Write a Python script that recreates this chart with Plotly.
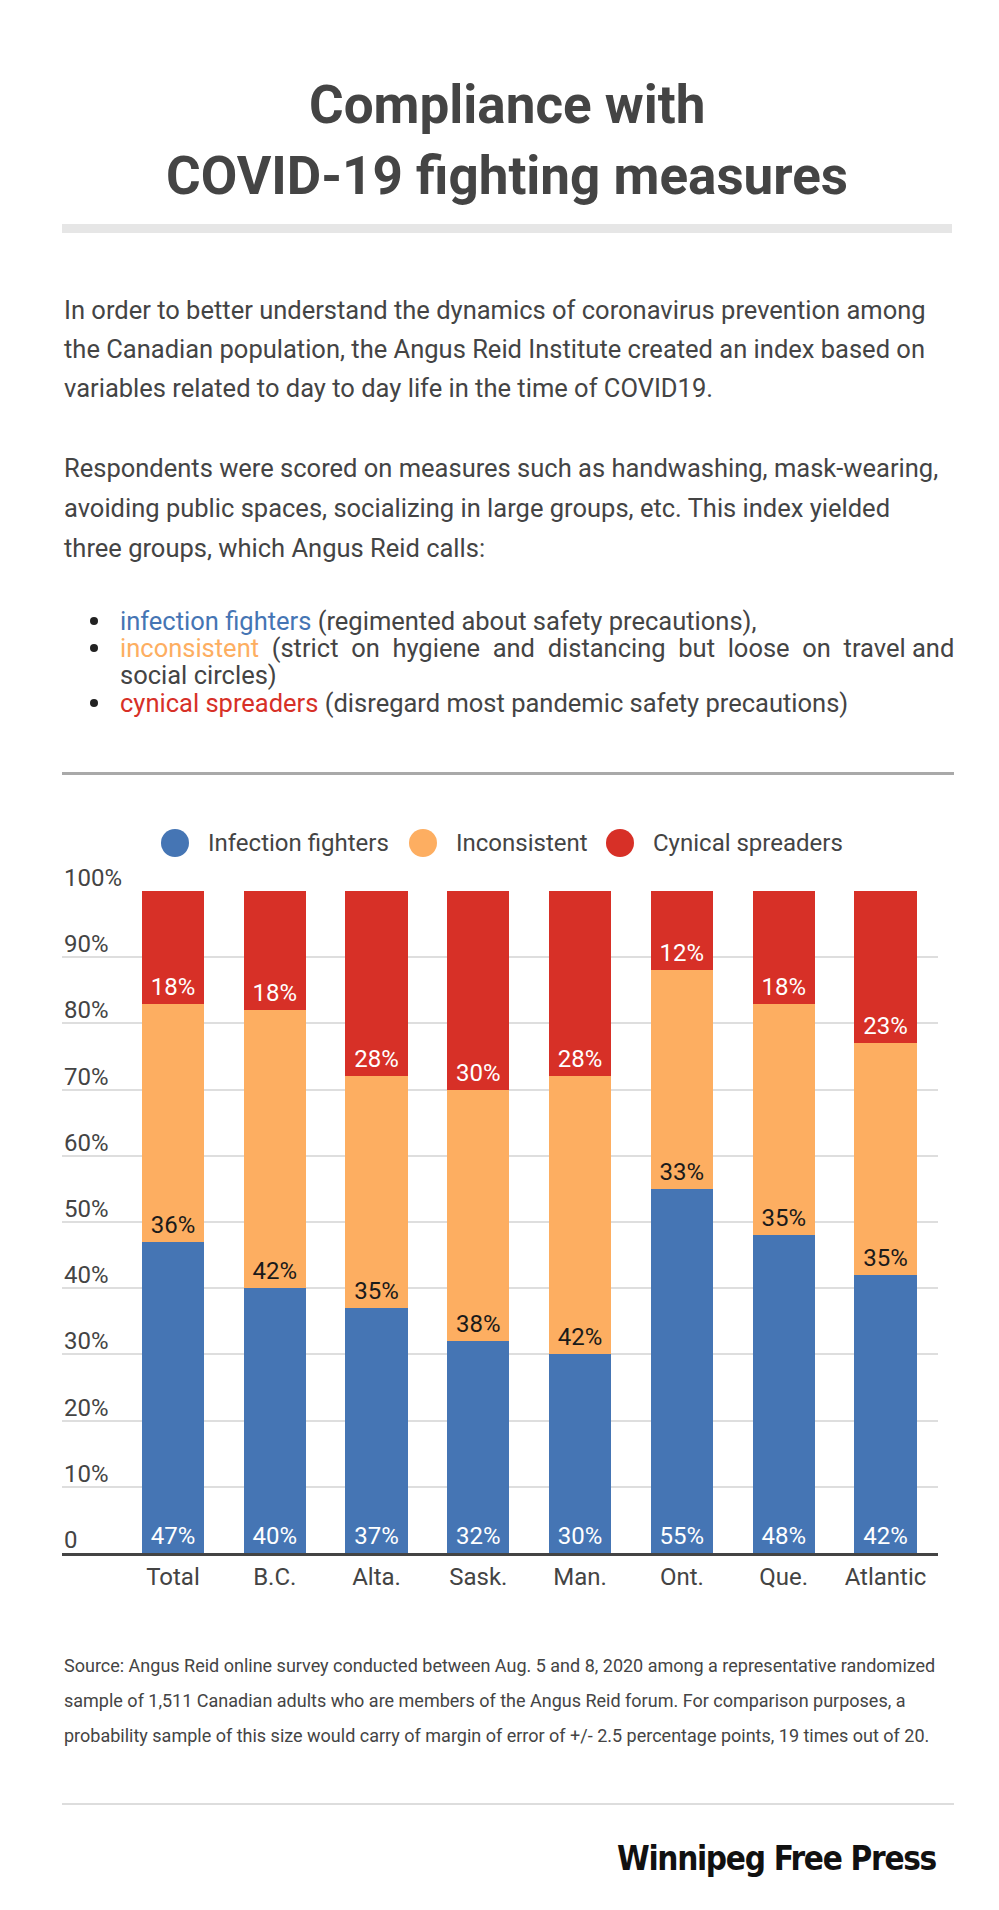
import plotly.graph_objects as go

# ---------------- data ----------------
categories = ["Total", "B.C.", "Alta.", "Sask.", "Man.", "Ont.", "Que.", "Atlantic"]
series_names = ["Infection fighters", "Inconsistent", "Cynical spreaders"]
infection_fighters = [47, 40, 37, 32, 30, 55, 48, 42]
inconsistent = [36, 42, 35, 38, 42, 33, 35, 35]
cynical_spreaders = [18, 18, 28, 30, 28, 12, 18, 23]
y_ticks = [0, 10, 20, 30, 40, 50, 60, 70, 80, 90, 100]
y_tick_labels = ["0", "10%", "20%", "30%", "40%", "50%", "60%", "70%", "80%", "90%", "100%"]

title_lines = ["Compliance with", "COVID-19 fighting measures"]
para1 = [
    "In order to better understand the dynamics of coronavirus prevention among",
    "the Canadian population, the Angus Reid Institute created an index based on",
    "variables related to day to day life in the time of COVID19.",
]
para2 = [
    "Respondents were scored on measures such as handwashing, mask-wearing,",
    "avoiding public spaces, socializing in large groups, etc. This index yielded",
    "three groups, which Angus Reid calls:",
]
source_lines = [
    "Source: Angus Reid online survey conducted between Aug. 5 and 8, 2020 among a representative randomized",
    "sample of 1,511 Canadian adults who are members of the Angus Reid forum. For comparison purposes, a",
    "probability sample of this size would carry of margin of error of +/- 2.5 percentage points, 19 times out of 20.",
]

# ---------------- style ----------------
W, H = 999, 1910
BLUE, ORANGE, RED = "#4575B4", "#FDAE61", "#D73027"
TXT = "#444444"
FONT = "Roboto"
BODY = 25.5
NB = "\u00a0"


def px(x):
    return x / W


def py(y):
    return 1 - y / H


fig = go.Figure()
for name, vals, col, tcol in [
    (series_names[0], infection_fighters, BLUE, "white"),
    (series_names[1], inconsistent, ORANGE, "#1a1a1a"),
    (series_names[2], cynical_spreaders, RED, "white"),
]:
    fig.add_trace(go.Bar(
        x=categories, y=vals, name=name, marker=dict(color=col, line=dict(width=0)),
        width=0.61, text=[f"{v}%" for v in vals], textposition="inside",
        insidetextanchor="start", textangle=0,
        textfont=dict(family=FONT, size=24, color=tcol),
        showlegend=False, hoverinfo="skip",
    ))

fig.update_layout(
    width=W, height=H, barmode="stack",
    margin=dict(l=0, r=0, t=0, b=0),
    paper_bgcolor="white", plot_bgcolor="white",
    font=dict(family=FONT, color=TXT),
    uniformtext=dict(minsize=8, mode=False),
    xaxis=dict(
        domain=[px(54), px(930)], range=[-1.09, 7.516],
        showgrid=False, showline=True, linecolor="#444444", linewidth=3,
        ticks="", tickfont=dict(family=FONT, size=24, color=TXT),
        ticklabelstandoff=0, fixedrange=True,
    ),
    yaxis=dict(
        domain=[py(1545), py(883)], range=[0, 100],
        tickvals=y_ticks, showticklabels=False,
        showgrid=True, gridcolor="#dedede", gridwidth=2,
        zeroline=False, fixedrange=True,
    ),
)

ann = []
shapes = []
# y tick labels above gridlines
for v, lab in zip(y_ticks, y_tick_labels):
    ann.append(dict(x=px(54), xref="paper", y=v, yref="y", text=lab,
                    xanchor="left", yanchor="bottom", yshift=-3, showarrow=False,
                    font=dict(family=FONT, size=24, color=TXT)))

# title
for t, yy in zip(title_lines, [97, 168]):
    ann.append(dict(x=px(499), y=py(yy), xref="paper", yref="paper", text=t,
                    xanchor="center", yanchor="middle", showarrow=False,
                    font=dict(family=FONT, size=53, color=TXT, weight=700)))

# paragraphs
for t, yy in zip(para1 + para2, [302, 341, 380, 460, 500, 540]):
    ann.append(dict(x=px(54), y=py(yy), xref="paper", yref="paper", text=t,
                    xanchor="left", yanchor="middle", showarrow=False,
                    font=dict(family=FONT, size=BODY, color=TXT)))

bullets = [
    (f"<span style='color:{BLUE}'>infection fighters </span>(regimented about safety precautions),", 613, True),
    (f"<span style='color:{ORANGE}'>inconsistent{NB}{NB}</span>(strict {NB}on {NB}hygiene {NB}and {NB}distancing {NB}but {NB}loose {NB}on {NB}travel and", 640, True),
    ("social circles)", 667, False),
    (f"<span style='color:{RED}'>cynical spreaders </span>(disregard most pandemic safety precautions)", 695, True),
]
for t, yy, dot in bullets:
    ann.append(dict(x=px(110), y=py(yy), xref="paper", yref="paper", text=t,
                    xanchor="left", yanchor="middle", showarrow=False,
                    font=dict(family=FONT, size=BODY, color=TXT)))
    if dot:
        shapes.append(dict(type="circle", xref="paper", yref="paper",
                           x0=px(82), x1=px(90), y0=py(yy + 4), y1=py(yy - 4),
                           fillcolor="#222222", line=dict(width=0)))

# legend (manual, circular swatches)
leg_x = [167, 415, 612]
for name, col, cx in zip(series_names, [BLUE, ORANGE, RED], leg_x):
    shapes.append(dict(type="circle", xref="paper", yref="paper",
                       x0=px(cx - 14), x1=px(cx + 14), y0=py(849), y1=py(821),
                       fillcolor=col, line=dict(width=0)))
    ann.append(dict(x=px(cx + 31), y=py(835), xref="paper", yref="paper", text=name,
                    xanchor="left", yanchor="middle", showarrow=False,
                    font=dict(family=FONT, size=24, color=TXT)))

# source
for t, yy in zip(source_lines, [1657, 1692, 1727]):
    ann.append(dict(x=px(54), y=py(yy), xref="paper", yref="paper", text=t,
                    xanchor="left", yanchor="middle", showarrow=False,
                    font=dict(family=FONT, size=18, color=TXT)))

# logo
ann.append(dict(x=px(931), y=py(1850), xref="paper", yref="paper",
                text="<span style='letter-spacing:-1.3px'>Winnipeg Free Press</span>",
                xanchor="right", yanchor="middle", showarrow=False,
                font=dict(family="DejaVu Sans Condensed, Liberation Sans Narrow, Liberation Sans",
                          size=33, color="#111111", weight=700)))

# separators
shapes.append(dict(type="rect", xref="paper", yref="paper", x0=px(54), x1=px(944),
                   y0=py(225), y1=py(216), fillcolor="#e6e6e6", line=dict(width=0)))
shapes.append(dict(type="rect", xref="paper", yref="paper", x0=px(54), x1=px(946),
                   y0=py(767), y1=py(764), fillcolor="#a9a9a9", line=dict(width=0)))
shapes.append(dict(type="rect", xref="paper", yref="paper", x0=px(54), x1=px(946),
                   y0=py(1797), y1=py(1795), fillcolor="#dddddd", line=dict(width=0)))

fig.update_layout(annotations=ann, shapes=shapes)
fig.write_html("out.html")
